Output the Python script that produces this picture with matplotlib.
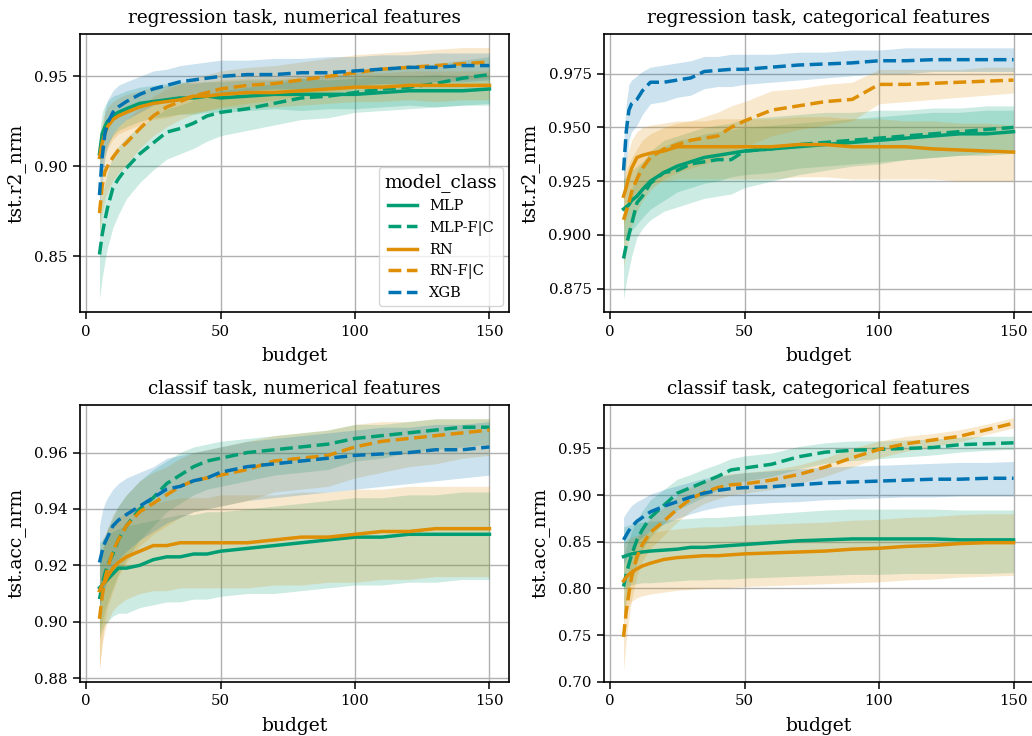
import matplotlib
matplotlib.use("Agg")
import matplotlib.pyplot as plt

plt.rcParams['font.family'] = ['DejaVu Serif']

budget = [5, 6, 7, 8, 10, 12, 15, 20, 25, 30, 35, 40, 45, 50, 60, 70, 80, 90, 100, 110, 120, 130, 140, 150]
models = ["MLP", "MLP-F|C", "RN", "RN-F|C", "XGB"]

# regression task, numerical features
rnum_mlp = [0.907, 0.918, 0.922, 0.925, 0.928, 0.930, 0.932, 0.935, 0.936, 0.937, 0.938, 0.938, 0.939, 0.938, 0.939, 0.940, 0.940, 0.940, 0.940, 0.941, 0.942, 0.942, 0.942, 0.943]
rnum_mlp_lo = [0.893, 0.903, 0.909, 0.913, 0.917, 0.920, 0.922, 0.925, 0.927, 0.928, 0.929, 0.929, 0.930, 0.930, 0.931, 0.932, 0.931, 0.932, 0.932, 0.933, 0.934, 0.933, 0.934, 0.935]
rnum_mlp_hi = [0.918, 0.930, 0.934, 0.936, 0.939, 0.940, 0.942, 0.944, 0.945, 0.946, 0.947, 0.946, 0.947, 0.947, 0.948, 0.948, 0.949, 0.948, 0.949, 0.950, 0.950, 0.951, 0.950, 0.951]
rnum_mlpfc = [0.851, 0.862, 0.870, 0.877, 0.888, 0.893, 0.899, 0.907, 0.913, 0.919, 0.921, 0.924, 0.928, 0.930, 0.932, 0.935, 0.938, 0.939, 0.941, 0.943, 0.944, 0.946, 0.949, 0.951]
rnum_mlpfc_lo = [0.826, 0.838, 0.847, 0.855, 0.866, 0.873, 0.882, 0.891, 0.898, 0.904, 0.907, 0.910, 0.914, 0.917, 0.920, 0.923, 0.926, 0.927, 0.930, 0.931, 0.932, 0.933, 0.934, 0.934]
rnum_mlpfc_hi = [0.875, 0.884, 0.891, 0.897, 0.906, 0.911, 0.916, 0.922, 0.927, 0.932, 0.934, 0.937, 0.940, 0.942, 0.944, 0.946, 0.949, 0.950, 0.952, 0.954, 0.955, 0.957, 0.959, 0.961]
rnum_rn = [0.905, 0.913, 0.918, 0.922, 0.926, 0.928, 0.930, 0.933, 0.935, 0.936, 0.937, 0.939, 0.939, 0.940, 0.941, 0.941, 0.942, 0.943, 0.944, 0.944, 0.945, 0.945, 0.945, 0.945]
rnum_rn_lo = [0.893, 0.900, 0.906, 0.910, 0.915, 0.918, 0.920, 0.923, 0.926, 0.927, 0.929, 0.930, 0.931, 0.932, 0.933, 0.933, 0.934, 0.935, 0.936, 0.936, 0.937, 0.936, 0.937, 0.937]
rnum_rn_hi = [0.916, 0.925, 0.930, 0.933, 0.936, 0.938, 0.940, 0.942, 0.944, 0.945, 0.946, 0.947, 0.947, 0.948, 0.949, 0.949, 0.950, 0.951, 0.952, 0.952, 0.953, 0.953, 0.953, 0.953]
rnum_rnfc = [0.874, 0.889, 0.897, 0.900, 0.905, 0.909, 0.913, 0.921, 0.928, 0.933, 0.936, 0.939, 0.941, 0.943, 0.945, 0.946, 0.948, 0.950, 0.952, 0.954, 0.955, 0.956, 0.957, 0.958]
rnum_rnfc_lo = [0.862, 0.874, 0.882, 0.886, 0.892, 0.896, 0.901, 0.910, 0.917, 0.922, 0.926, 0.929, 0.931, 0.933, 0.935, 0.937, 0.939, 0.941, 0.943, 0.945, 0.946, 0.947, 0.948, 0.949]
rnum_rnfc_hi = [0.887, 0.902, 0.910, 0.914, 0.918, 0.922, 0.926, 0.932, 0.939, 0.943, 0.946, 0.949, 0.951, 0.953, 0.955, 0.956, 0.958, 0.960, 0.962, 0.963, 0.964, 0.965, 0.966, 0.966]
rnum_xgb = [0.884, 0.905, 0.918, 0.924, 0.930, 0.933, 0.936, 0.940, 0.943, 0.945, 0.947, 0.948, 0.949, 0.950, 0.951, 0.951, 0.952, 0.952, 0.953, 0.954, 0.955, 0.955, 0.956, 0.956]
rnum_xgb_lo = [0.868, 0.890, 0.904, 0.911, 0.918, 0.922, 0.926, 0.930, 0.934, 0.936, 0.938, 0.939, 0.940, 0.941, 0.942, 0.943, 0.943, 0.944, 0.945, 0.946, 0.946, 0.947, 0.947, 0.948]
rnum_xgb_hi = [0.900, 0.919, 0.931, 0.937, 0.942, 0.945, 0.947, 0.950, 0.953, 0.954, 0.956, 0.957, 0.958, 0.959, 0.959, 0.960, 0.960, 0.961, 0.961, 0.962, 0.962, 0.963, 0.963, 0.963]

# regression task, categorical features
rcat_mlp = [0.912, 0.913, 0.914, 0.916, 0.918, 0.921, 0.925, 0.929, 0.932, 0.934, 0.936, 0.937, 0.938, 0.939, 0.940, 0.941, 0.942, 0.943, 0.944, 0.945, 0.946, 0.947, 0.947, 0.948]
rcat_mlp_lo = [0.897, 0.898, 0.900, 0.902, 0.905, 0.908, 0.912, 0.916, 0.920, 0.922, 0.924, 0.925, 0.927, 0.928, 0.929, 0.931, 0.932, 0.933, 0.934, 0.935, 0.936, 0.937, 0.937, 0.938]
rcat_mlp_hi = [0.926, 0.927, 0.929, 0.930, 0.932, 0.934, 0.938, 0.941, 0.944, 0.945, 0.947, 0.948, 0.949, 0.950, 0.951, 0.952, 0.953, 0.954, 0.955, 0.956, 0.957, 0.957, 0.958, 0.958]
rcat_mlpfc = [0.889, 0.895, 0.900, 0.905, 0.915, 0.918, 0.924, 0.929, 0.930, 0.933, 0.934, 0.935, 0.935, 0.939, 0.940, 0.942, 0.943, 0.944, 0.945, 0.946, 0.947, 0.948, 0.949, 0.950]
rcat_mlpfc_lo = [0.870, 0.878, 0.884, 0.890, 0.899, 0.903, 0.907, 0.911, 0.913, 0.915, 0.917, 0.918, 0.919, 0.922, 0.925, 0.928, 0.930, 0.932, 0.933, 0.935, 0.936, 0.937, 0.938, 0.939]
rcat_mlpfc_hi = [0.907, 0.912, 0.917, 0.921, 0.930, 0.933, 0.939, 0.944, 0.946, 0.948, 0.950, 0.951, 0.952, 0.954, 0.955, 0.956, 0.957, 0.957, 0.958, 0.958, 0.959, 0.959, 0.960, 0.960]
rcat_rn = [0.918, 0.922, 0.927, 0.931, 0.936, 0.937, 0.938, 0.939, 0.941, 0.941, 0.941, 0.941, 0.941, 0.941, 0.941, 0.942, 0.942, 0.941, 0.941, 0.941, 0.940, 0.9395, 0.939, 0.9385]
rcat_rn_lo = [0.904, 0.908, 0.913, 0.916, 0.920, 0.922, 0.924, 0.925, 0.926, 0.926, 0.926, 0.926, 0.926, 0.926, 0.926, 0.927, 0.927, 0.926, 0.926, 0.926, 0.926, 0.925, 0.925, 0.925]
rcat_rn_hi = [0.931, 0.936, 0.940, 0.944, 0.948, 0.950, 0.951, 0.952, 0.953, 0.953, 0.953, 0.954, 0.954, 0.954, 0.954, 0.955, 0.955, 0.954, 0.954, 0.953, 0.953, 0.952, 0.952, 0.951]
rcat_rnfc = [0.907, 0.911, 0.915, 0.920, 0.926, 0.931, 0.936, 0.940, 0.942, 0.944, 0.945, 0.946, 0.950, 0.953, 0.958, 0.960, 0.962, 0.963, 0.970, 0.970, 0.9705, 0.971, 0.9715, 0.972]
rcat_rnfc_lo = [0.885, 0.892, 0.898, 0.904, 0.911, 0.916, 0.921, 0.926, 0.929, 0.931, 0.933, 0.935, 0.938, 0.941, 0.946, 0.949, 0.951, 0.953, 0.961, 0.962, 0.963, 0.964, 0.965, 0.966]
rcat_rnfc_hi = [0.925, 0.930, 0.933, 0.936, 0.940, 0.944, 0.947, 0.950, 0.952, 0.953, 0.955, 0.957, 0.960, 0.962, 0.967, 0.968, 0.970, 0.971, 0.977, 0.977, 0.977, 0.977, 0.978, 0.978]
rcat_xgb = [0.930, 0.948, 0.958, 0.961, 0.963, 0.967, 0.971, 0.971, 0.972, 0.973, 0.976, 0.9765, 0.977, 0.977, 0.978, 0.979, 0.9795, 0.980, 0.981, 0.981, 0.9815, 0.9815, 0.9815, 0.9815]
rcat_xgb_lo = [0.918, 0.934, 0.944, 0.948, 0.951, 0.956, 0.961, 0.962, 0.964, 0.965, 0.968, 0.969, 0.969, 0.970, 0.971, 0.972, 0.973, 0.974, 0.975, 0.975, 0.976, 0.976, 0.976, 0.976]
rcat_xgb_hi = [0.942, 0.961, 0.970, 0.972, 0.974, 0.976, 0.978, 0.979, 0.980, 0.981, 0.983, 0.983, 0.984, 0.984, 0.984, 0.985, 0.985, 0.986, 0.986, 0.987, 0.987, 0.987, 0.987, 0.987]

# classif task, numerical features
cnum_mlp = [0.912, 0.913, 0.914, 0.915, 0.917, 0.919, 0.919, 0.920, 0.922, 0.923, 0.923, 0.924, 0.924, 0.925, 0.926, 0.927, 0.928, 0.929, 0.930, 0.930, 0.931, 0.931, 0.931, 0.931]
cnum_mlp_lo = [0.894, 0.897, 0.899, 0.900, 0.902, 0.903, 0.903, 0.905, 0.906, 0.907, 0.907, 0.908, 0.908, 0.909, 0.910, 0.910, 0.911, 0.912, 0.913, 0.913, 0.914, 0.914, 0.915, 0.915]
cnum_mlp_hi = [0.928, 0.929, 0.930, 0.931, 0.932, 0.933, 0.934, 0.935, 0.936, 0.937, 0.938, 0.938, 0.939, 0.939, 0.940, 0.941, 0.942, 0.943, 0.944, 0.944, 0.945, 0.945, 0.946, 0.946]
cnum_mlpfc = [0.908, 0.913, 0.917, 0.920, 0.924, 0.929, 0.934, 0.940, 0.944, 0.949, 0.952, 0.955, 0.957, 0.958, 0.960, 0.961, 0.962, 0.963, 0.965, 0.966, 0.967, 0.968, 0.969, 0.969]
cnum_mlpfc_lo = [0.896, 0.900, 0.904, 0.907, 0.912, 0.917, 0.922, 0.929, 0.934, 0.939, 0.942, 0.945, 0.947, 0.948, 0.950, 0.952, 0.953, 0.954, 0.957, 0.958, 0.960, 0.961, 0.962, 0.963]
cnum_mlpfc_hi = [0.920, 0.925, 0.929, 0.933, 0.937, 0.941, 0.945, 0.950, 0.954, 0.957, 0.960, 0.962, 0.963, 0.964, 0.965, 0.966, 0.967, 0.968, 0.970, 0.970, 0.971, 0.972, 0.972, 0.972]
cnum_rn = [0.911, 0.913, 0.914, 0.916, 0.919, 0.921, 0.923, 0.925, 0.927, 0.927, 0.928, 0.928, 0.928, 0.928, 0.928, 0.929, 0.930, 0.930, 0.931, 0.932, 0.932, 0.933, 0.933, 0.933]
cnum_rn_lo = [0.883, 0.892, 0.897, 0.900, 0.904, 0.906, 0.908, 0.910, 0.911, 0.911, 0.912, 0.912, 0.912, 0.912, 0.912, 0.913, 0.913, 0.914, 0.914, 0.915, 0.915, 0.916, 0.916, 0.916]
cnum_rn_hi = [0.925, 0.929, 0.931, 0.933, 0.935, 0.937, 0.939, 0.941, 0.942, 0.943, 0.944, 0.944, 0.944, 0.945, 0.945, 0.945, 0.946, 0.946, 0.947, 0.947, 0.948, 0.948, 0.948, 0.948]
cnum_rnfc = [0.901, 0.909, 0.915, 0.919, 0.925, 0.929, 0.934, 0.939, 0.942, 0.945, 0.948, 0.950, 0.951, 0.952, 0.954, 0.957, 0.958, 0.959, 0.962, 0.964, 0.965, 0.966, 0.967, 0.968]
cnum_rnfc_lo = [0.883, 0.893, 0.900, 0.905, 0.911, 0.916, 0.921, 0.927, 0.931, 0.934, 0.937, 0.939, 0.940, 0.941, 0.943, 0.946, 0.947, 0.948, 0.951, 0.953, 0.955, 0.956, 0.958, 0.959]
cnum_rnfc_hi = [0.917, 0.924, 0.929, 0.933, 0.938, 0.941, 0.945, 0.950, 0.953, 0.955, 0.958, 0.960, 0.961, 0.962, 0.964, 0.966, 0.967, 0.968, 0.970, 0.971, 0.971, 0.972, 0.972, 0.972]
cnum_xgb = [0.921, 0.925, 0.928, 0.930, 0.934, 0.936, 0.938, 0.941, 0.944, 0.947, 0.948, 0.950, 0.951, 0.953, 0.955, 0.956, 0.957, 0.958, 0.959, 0.9595, 0.960, 0.961, 0.961, 0.962]
cnum_xgb_lo = [0.905, 0.909, 0.912, 0.915, 0.919, 0.922, 0.925, 0.929, 0.932, 0.935, 0.937, 0.939, 0.940, 0.941, 0.943, 0.944, 0.945, 0.946, 0.947, 0.948, 0.949, 0.950, 0.951, 0.952]
cnum_xgb_hi = [0.934, 0.939, 0.942, 0.944, 0.947, 0.949, 0.951, 0.953, 0.955, 0.958, 0.959, 0.960, 0.961, 0.962, 0.964, 0.965, 0.966, 0.967, 0.968, 0.969, 0.969, 0.970, 0.970, 0.971]

# classif task, categorical features
ccat_mlp = [0.834, 0.835, 0.836, 0.837, 0.838, 0.839, 0.840, 0.841, 0.842, 0.844, 0.844, 0.845, 0.846, 0.847, 0.849, 0.851, 0.852, 0.853, 0.853, 0.853, 0.853, 0.852, 0.852, 0.852]
ccat_mlp_lo = [0.800, 0.802, 0.803, 0.804, 0.805, 0.806, 0.806, 0.807, 0.808, 0.809, 0.809, 0.810, 0.810, 0.811, 0.812, 0.813, 0.814, 0.815, 0.815, 0.816, 0.816, 0.816, 0.816, 0.817]
ccat_mlp_hi = [0.866, 0.867, 0.868, 0.869, 0.870, 0.871, 0.872, 0.873, 0.874, 0.875, 0.876, 0.876, 0.877, 0.878, 0.880, 0.882, 0.884, 0.885, 0.885, 0.885, 0.885, 0.884, 0.884, 0.884]
ccat_mlpfc = [0.802, 0.815, 0.826, 0.836, 0.852, 0.863, 0.876, 0.889, 0.902, 0.908, 0.914, 0.920, 0.927, 0.929, 0.933, 0.941, 0.946, 0.948, 0.949, 0.950, 0.951, 0.954, 0.955, 0.956]
ccat_mlpfc_lo = [0.770, 0.785, 0.798, 0.810, 0.828, 0.841, 0.855, 0.870, 0.884, 0.891, 0.898, 0.905, 0.912, 0.915, 0.920, 0.928, 0.934, 0.937, 0.939, 0.941, 0.943, 0.946, 0.948, 0.949]
ccat_mlpfc_hi = [0.832, 0.844, 0.853, 0.861, 0.874, 0.883, 0.895, 0.906, 0.917, 0.922, 0.928, 0.933, 0.939, 0.942, 0.945, 0.952, 0.956, 0.958, 0.958, 0.959, 0.960, 0.962, 0.963, 0.963]
ccat_rn = [0.808, 0.812, 0.815, 0.817, 0.821, 0.824, 0.827, 0.831, 0.833, 0.834, 0.835, 0.835, 0.836, 0.837, 0.838, 0.839, 0.840, 0.842, 0.843, 0.845, 0.846, 0.848, 0.849, 0.849]
ccat_rn_lo = [0.765, 0.775, 0.782, 0.786, 0.790, 0.792, 0.794, 0.796, 0.798, 0.799, 0.800, 0.800, 0.801, 0.802, 0.803, 0.804, 0.805, 0.806, 0.807, 0.809, 0.810, 0.812, 0.813, 0.814]
ccat_rn_hi = [0.848, 0.851, 0.853, 0.855, 0.857, 0.858, 0.860, 0.862, 0.864, 0.865, 0.866, 0.866, 0.867, 0.868, 0.869, 0.870, 0.871, 0.873, 0.874, 0.876, 0.877, 0.879, 0.880, 0.880]
ccat_rnfc = [0.748, 0.775, 0.795, 0.812, 0.834, 0.847, 0.860, 0.872, 0.885, 0.896, 0.903, 0.908, 0.911, 0.912, 0.916, 0.922, 0.930, 0.940, 0.949, 0.955, 0.959, 0.963, 0.970, 0.977]
ccat_rnfc_lo = [0.712, 0.745, 0.768, 0.788, 0.814, 0.829, 0.843, 0.857, 0.871, 0.883, 0.891, 0.896, 0.900, 0.902, 0.906, 0.912, 0.920, 0.930, 0.940, 0.947, 0.952, 0.957, 0.965, 0.972]
ccat_rnfc_hi = [0.790, 0.806, 0.822, 0.836, 0.854, 0.865, 0.876, 0.887, 0.899, 0.909, 0.915, 0.920, 0.923, 0.924, 0.927, 0.932, 0.940, 0.950, 0.958, 0.963, 0.966, 0.970, 0.976, 0.983]
ccat_xgb = [0.852, 0.857, 0.862, 0.866, 0.872, 0.876, 0.882, 0.888, 0.893, 0.898, 0.902, 0.905, 0.907, 0.908, 0.909, 0.911, 0.913, 0.914, 0.915, 0.916, 0.917, 0.917, 0.918, 0.918]
ccat_xgb_lo = [0.826, 0.832, 0.838, 0.843, 0.850, 0.855, 0.862, 0.869, 0.875, 0.880, 0.884, 0.887, 0.889, 0.890, 0.892, 0.893, 0.895, 0.896, 0.897, 0.898, 0.898, 0.899, 0.899, 0.899]
ccat_xgb_hi = [0.876, 0.881, 0.885, 0.889, 0.893, 0.896, 0.901, 0.906, 0.910, 0.914, 0.918, 0.920, 0.922, 0.924, 0.926, 0.928, 0.930, 0.931, 0.932, 0.933, 0.934, 0.935, 0.935, 0.936]

colors = {"MLP": "#029e73", "MLP-F|C": "#029e73", "RN": "#de8f05", "RN-F|C": "#de8f05", "XGB": "#0173b2"}
styles = {"MLP": "-", "MLP-F|C": "--", "RN": "-", "RN-F|C": "--", "XGB": "--"}

panels = [
    ("regression task, numerical features", "tst.r2_nrm", (0.819, 0.9735), [0.85, 0.90, 0.95], "%.2f",
     [(rnum_mlp, rnum_mlp_lo, rnum_mlp_hi), (rnum_mlpfc, rnum_mlpfc_lo, rnum_mlpfc_hi), (rnum_rn, rnum_rn_lo, rnum_rn_hi),
      (rnum_rnfc, rnum_rnfc_lo, rnum_rnfc_hi), (rnum_xgb, rnum_xgb_lo, rnum_xgb_hi)]),
    ("regression task, categorical features", "tst.r2_nrm", (0.8641, 0.9934), [0.875, 0.900, 0.925, 0.950, 0.975], "%.3f",
     [(rcat_mlp, rcat_mlp_lo, rcat_mlp_hi), (rcat_mlpfc, rcat_mlpfc_lo, rcat_mlpfc_hi), (rcat_rn, rcat_rn_lo, rcat_rn_hi),
      (rcat_rnfc, rcat_rnfc_lo, rcat_rnfc_hi), (rcat_xgb, rcat_xgb_lo, rcat_xgb_hi)]),
    ("classif task, numerical features", "tst.acc_nrm", (0.8786, 0.977), [0.88, 0.90, 0.92, 0.94, 0.96], "%.2f",
     [(cnum_mlp, cnum_mlp_lo, cnum_mlp_hi), (cnum_mlpfc, cnum_mlpfc_lo, cnum_mlpfc_hi), (cnum_rn, cnum_rn_lo, cnum_rn_hi),
      (cnum_rnfc, cnum_rnfc_lo, cnum_rnfc_hi), (cnum_xgb, cnum_xgb_lo, cnum_xgb_hi)]),
    ("classif task, categorical features", "tst.acc_nrm", (0.6997, 0.9969), [0.70, 0.75, 0.80, 0.85, 0.90, 0.95], "%.2f",
     [(ccat_mlp, ccat_mlp_lo, ccat_mlp_hi), (ccat_mlpfc, ccat_mlpfc_lo, ccat_mlpfc_hi), (ccat_rn, ccat_rn_lo, ccat_rn_hi),
      (ccat_rnfc, ccat_rnfc_lo, ccat_rnfc_hi), (ccat_xgb, ccat_xgb_lo, ccat_xgb_hi)]),
]

# axes rectangles in figure fractions (right column runs off the edge like the reference crop)
rects = [
    [0.0775, 0.576, 0.4157, 0.3777],
    [0.5853, 0.576, 0.4157, 0.3777],
    [0.0775, 0.0734, 0.4157, 0.3768],
    [0.5853, 0.0734, 0.4157, 0.3768],
]

fig = plt.figure(figsize=(10.32, 7.36), dpi=100)

for i, (title, ylab, ylim, yticks, fmt, series) in enumerate(panels):
    ax = fig.add_axes(rects[i])
    ax.set_axisbelow(True)
    ax.grid(True, color="#b0b0b0", linewidth=1.0)
    for name, (mean, lo, hi) in zip(models, series):
        ax.fill_between(budget, lo, hi, color=colors[name], alpha=0.2, linewidth=0)
        ax.plot(budget, mean, color=colors[name], linestyle=styles[name], linewidth=2.5, label=name)
    ax.set_xlim(-2.25, 157.25)
    ax.set_ylim(*ylim)
    ax.set_xticks([0, 50, 100, 150])
    ax.set_yticks(yticks)
    ax.yaxis.set_major_formatter(matplotlib.ticker.FormatStrFormatter(fmt))
    ax.tick_params(labelsize=10.8, width=1.1, length=5, pad=4)
    for sp in ax.spines.values():
        sp.set_linewidth(1.2)
    ax.set_title(title, fontsize=13.3, pad=8)
    ax.set_xlabel("budget", fontsize=13.5, labelpad=6)
    ax.set_ylabel(ylab, fontsize=13.5, labelpad=6)
    if i == 0:
        leg = ax.legend(title="model_class", loc="lower right", fontsize=10.5, title_fontsize=13.3,
                        handlelength=2.0, borderaxespad=0.4)

fig.savefig("out.png", dpi=100)
